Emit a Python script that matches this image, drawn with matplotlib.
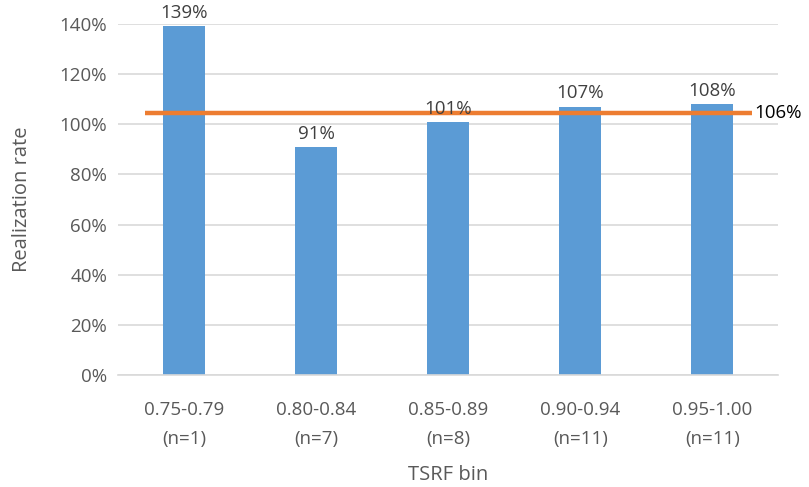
import matplotlib
matplotlib.use('Agg')
import matplotlib.pyplot as plt
from matplotlib.ticker import FuncFormatter

bins = ["0.75-0.79\n(n=1)", "0.80-0.84\n(n=7)", "0.85-0.89\n(n=8)",
        "0.90-0.94\n(n=11)", "0.95-1.00\n(n=11)"]
rates = [139, 91, 101, 107, 108]
avg_rate = 104.5
avg_label = "106%"

plt.rcParams['font.family'] = ['Open Sans', 'DejaVu Sans']

fig = plt.figure(figsize=(8.09, 4.87), dpi=100)
ax = fig.add_axes([0.146, 0.230, 0.816, 0.721])

fs = 13.5
x = list(range(len(bins)))
bars = ax.bar(x, rates, width=0.32, color="#5B9BD5", zorder=2)
for xi, v in zip(x, rates):
    ax.annotate(f"{v}%", (xi, v), xytext=(0, 3), textcoords="offset points",
                ha="center", va="bottom", fontsize=fs, color="#404040", zorder=4)

ax.plot([-0.3, 4.3], [avg_rate, avg_rate], color="#ED7D31", lw=3.2,
        solid_capstyle="butt", zorder=3)
ax.text(4.32, avg_rate, avg_label, ha="left", va="center", fontsize=fs,
        color="black", clip_on=False)

ax.set_xlim(-0.5, 4.5)
ax.set_ylim(0, 140)
ax.set_yticks(range(0, 141, 20))
ax.yaxis.set_major_formatter(FuncFormatter(lambda v, p: f"{v:.0f}%"))
ax.set_xticks(x)
ax.set_xticklabels(bins, linespacing=1.75)
ax.tick_params(axis="both", length=0, labelsize=fs, labelcolor="#595959")
ax.tick_params(axis="x", pad=19)
ax.tick_params(axis="y", pad=8)
ax.grid(axis="y", color="#D9D9D9", lw=1.2, zorder=0)
for s in ["top", "right", "left"]:
    ax.spines[s].set_visible(False)
ax.spines["bottom"].set_color("#D9D9D9")
ax.spines["bottom"].set_linewidth(1.2)

ax.set_ylabel("Realization rate", fontsize=14.5, color="#595959", labelpad=20)
ax.set_xlabel("TSRF bin", fontsize=14.5, color="#595959", labelpad=12)

fig.savefig("out.png", dpi=100)
